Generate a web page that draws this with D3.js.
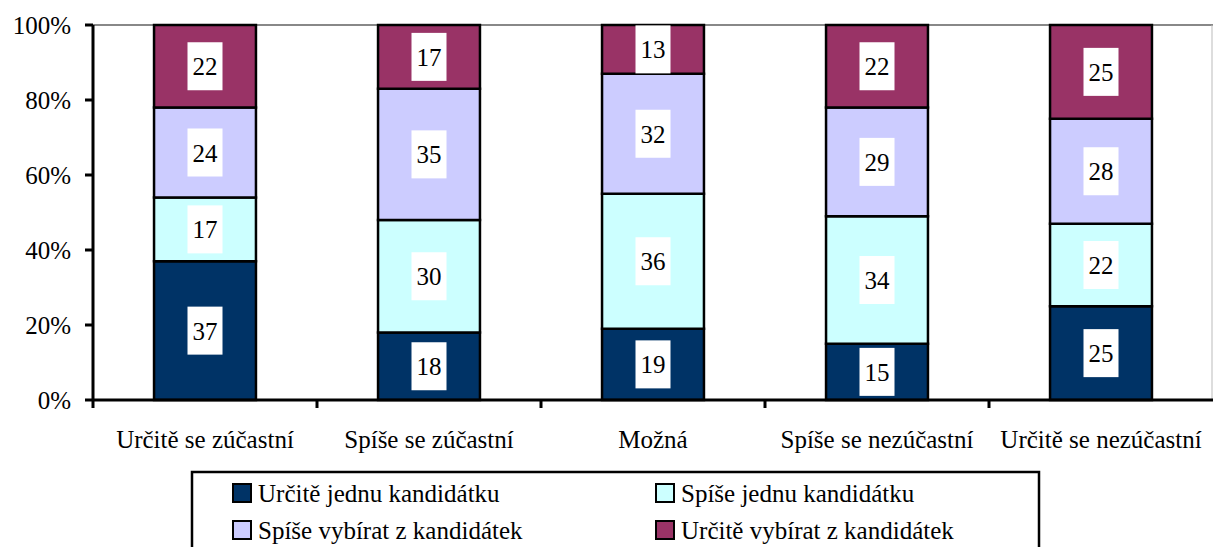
<html>
<head>
<meta charset="utf-8">
<script src='https://d3js.org/d3.v7.min.js'></script>
<style>
body {margin: 0; background: white;}
</style>
</head>
<body>
<svg width=1213 height=547>
<style>text { font-family: 'Liberation Serif'; font-size: 25px; fill: black; }</style>
</svg>
<script>
var categories = ["Určitě se zúčastní", "Spíše se zúčastní", "Možná", "Spíše se nezúčastní", "Určitě se nezúčastní"];
var seriesNames = ["Určitě jednu kandidátku", "Spíše jednu kandidátku", "Spíše vybírat z kandidátek", "Určitě vybírat z kandidátek"];
var urciteJednu = [37, 18, 19, 15, 25];
var spiseJednu = [17, 30, 36, 34, 22];
var spiseVybirat = [24, 35, 32, 29, 28];
var urciteVybirat = [22, 17, 13, 22, 25];
var yTicks = [0, 20, 40, 60, 80, 100];
var colors = ["#003366", "#CCFFFF", "#CCCCFF", "#993366"];

var svg = d3.select("svg");
var plotLeft = 93, plotRight = 1213, plotTop = 25, plotBottom = 400;

var x = d3.scaleBand().domain(categories).range([plotLeft, plotRight]).paddingInner(0).paddingOuter(0);
var y = d3.scaleLinear().domain([0, 100]).range([plotBottom, plotTop]);
var barW = x.bandwidth() * 0.455;

// table for stacking
var table = categories.map(function(c, i) {
    return {cat: c, s0: urciteJednu[i], s1: spiseJednu[i], s2: spiseVybirat[i], s3: urciteVybirat[i]};
});
var stack = d3.stack().keys(["s0", "s1", "s2", "s3"])(table);

// top gridline and right border
svg.append("line").attr("x1", plotLeft).attr("x2", plotRight).attr("y1", y(100)).attr("y2", y(100))
    .attr("stroke", "#888").attr("stroke-width", 2);
svg.append("line").attr("x1", plotRight - 1).attr("x2", plotRight - 1).attr("y1", y(100)).attr("y2", plotBottom)
    .attr("stroke", "#bbb").attr("stroke-width", 1);

var layers = svg.selectAll(".layer").data(stack).enter().append("g")
    .attr("class", "layer")
    .attr("fill", function(d, i) { return colors[i]; });

layers.selectAll("rect").data(function(d) { return d; }).enter().append("rect")
    .attr("x", function(d) { return x(d.data.cat) + x.bandwidth() / 2 - barW / 2; })
    .attr("y", function(d) { return y(d[1]); })
    .attr("width", barW)
    .attr("height", function(d) { return y(d[0]) - y(d[1]); })
    .attr("stroke", "black").attr("stroke-width", 2.5);

// value labels
stack.forEach(function(layer) {
    layer.forEach(function(d) {
        var cx = x(d.data.cat) + x.bandwidth() / 2;
        var cy = (y(d[0]) + y(d[1])) / 2;
        svg.append("rect").attr("x", cx - 17.5).attr("y", cy - 24).attr("width", 35).attr("height", 48).attr("fill", "white");
        svg.append("text").attr("x", cx).attr("y", cy + 9).attr("text-anchor", "middle")
            .text(d[1] - d[0]);
    });
});

// y axis
svg.append("line").attr("x1", plotLeft).attr("x2", plotLeft).attr("y1", plotTop).attr("y2", plotBottom)
    .attr("stroke", "black").attr("stroke-width", 3);
yTicks.forEach(function(t) {
    svg.append("line").attr("x1", plotLeft - 8).attr("x2", plotLeft).attr("y1", y(t)).attr("y2", y(t))
        .attr("stroke", "black").attr("stroke-width", 3);
    svg.append("text").attr("x", plotLeft - 22).attr("y", y(t) + 9).attr("text-anchor", "end")
        .text(t + "%");
});

// x axis
svg.append("line").attr("x1", plotLeft).attr("x2", plotRight).attr("y1", plotBottom).attr("y2", plotBottom)
    .attr("stroke", "black").attr("stroke-width", 3);
categories.forEach(function(c) {
    svg.append("line").attr("x1", x(c)).attr("x2", x(c)).attr("y1", plotBottom).attr("y2", plotBottom + 8)
        .attr("stroke", "black").attr("stroke-width", 3);
    svg.append("text").attr("x", x(c) + x.bandwidth() / 2).attr("y", plotBottom + 48)
        .attr("text-anchor", "middle").text(c);
});

// legend
svg.append("rect").attr("x", 192).attr("y", 472).attr("width", 847).attr("height", 90)
    .attr("fill", "white").attr("stroke", "black").attr("stroke-width", 2.5);
var legPos = [[232, 493], [655, 493], [232, 530], [655, 530]];
seriesNames.forEach(function(name, i) {
    svg.append("rect").attr("x", legPos[i][0] + 1).attr("y", legPos[i][1] - 9).attr("width", 18).attr("height", 18)
        .attr("fill", colors[i]).attr("stroke", "black").attr("stroke-width", 2);
    svg.append("text").attr("x", legPos[i][0] + 26).attr("y", legPos[i][1] + 9).text(name);
});
</script>
</body>
</html>
